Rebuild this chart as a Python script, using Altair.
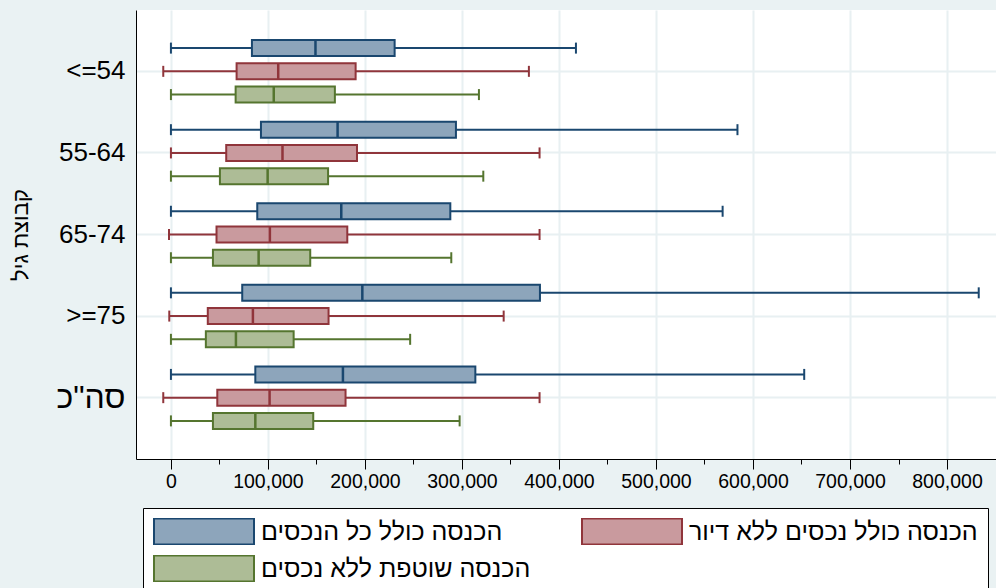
import altair as alt
import pandas as pd

groups = ["<=54", "55-64", "65-74", ">=75", 'סה"כ']
series = ["הכנסה כולל כל הנכסים", "הכנסה כולל נכסים ללא דיור", "הכנסה שוטפת ללא נכסים"]

# all assets
s1_lo = [0, 0, 0, 0, 0]
s1_q1 = [83500, 92800, 89000, 73500, 87000]
s1_med = [149000, 171800, 175600, 197300, 177300]
s1_q3 = [230600, 293800, 288000, 380400, 313800]
s1_hi = [417500, 584000, 568700, 832700, 652800]
# assets without housing
s2_lo = [-7900, 0, -2000, -1700, -7900]
s2_q1 = [67700, 57000, 47000, 38000, 47800]
s2_med = [110600, 115000, 102000, 84500, 101700]
s2_q3 = [190400, 191800, 181800, 162500, 180000]
s2_hi = [369000, 380000, 380000, 343000, 380000]
# current income, no assets
s3_lo = [0, 0, 0, 0, 0]
s3_q1 = [66700, 50500, 43300, 36000, 43300]
s3_med = [106000, 99700, 90400, 67000, 87000]
s3_q3 = [169000, 162000, 143600, 126500, 146700]
s3_hi = [317500, 322000, 289000, 246600, 297600]

fill_colors = ["#8DA5BB", "#C99A9E", "#ADBC96"]
stroke_colors = ["#1A476F", "#90353B", "#55752F"]

stats = [
    (s1_lo, s1_q1, s1_med, s1_q3, s1_hi),
    (s2_lo, s2_q1, s2_med, s2_q3, s2_hi),
    (s3_lo, s3_q1, s3_med, s3_q3, s3_hi),
]
rows = []
for s, (lo, q1, med, q3, hi) in zip(series, stats):
    for i, g in enumerate(groups):
        rows.append(dict(group=g, series=s, lo=lo[i], q1=q1[i], med=med[i], q3=q3[i], hi=hi[i]))
df = pd.DataFrame(rows)

FONT = "Liberation Sans"
GRID = "#E8F0F2"

xscale = alt.Scale(domain=[-36000, 850500], nice=False, zero=False)
major = "datum.value % 100000 === 0"
xaxis = alt.Axis(
    title=None,
    values=list(range(0, 850001, 25000)),
    labelExpr="datum.value % 100000 === 0 ? format(datum.value, ',') : ''",
    labelFont=FONT,
    labelFontSize=19.5,
    labelColor="black",
    labelPadding=3,
    labelFlush=False,
    tickColor="black",
    tickSize={"condition": {"test": major, "value": 10}, "value": 5},
    domainColor="black",
    domainWidth=1,
    grid=True,
    gridColor=GRID,
    gridWidth=2,
    gridOpacity={"condition": {"test": major, "value": 1}, "value": 0},
)

yenc = alt.Y(
    "group:N",
    sort=groups,
    scale=alt.Scale(paddingInner=0, paddingOuter=0.252),
    axis=alt.Axis(
        title="קבוצת גיל",
        titleFont=FONT,
        titleFontSize=22,
        titleFontWeight="normal",
        titleColor="black",
        titleX=-116,
        titleY=224.5,
        titleBaseline="middle",
        titleAlign="center",
        titleAngle=270,
        labelFont=FONT,
        labelFontSize={"condition": {"test": "datum.value === '" + groups[-1] + "'", "value": 32}, "value": 26},
        labelColor="black",
        labelPadding=11,
        ticks=False,
        domainColor="black",
        domainWidth=1,
        grid=True,
        gridColor=GRID,
        gridWidth=2,
    ),
)
yoff = alt.YOffset("series:N", sort=series, scale=alt.Scale(paddingInner=0.31, paddingOuter=0.41))

legend = alt.Legend(
    title=None,
    orient="none",
    legendX=7,
    legendY=498,
    direction="horizontal",
    columns=2,
    columnPadding=50,
    rowPadding=10,
    symbolType="M-1,-0.26H1V0.26H-1Z",
    symbolSize=10000,
    symbolStrokeWidth=2,
    symbolOpacity=1,
    clipHeight=27,
    labelFont=FONT,
    labelFontSize=25,
    labelColor="black",
    labelOffset=6,
    labelLimit=500,
    padding=10,
    strokeColor="black",
    fillColor="white",
)

fill_enc = alt.Fill("series:N", sort=series, scale=alt.Scale(domain=series, range=fill_colors), legend=legend)
stroke_enc = alt.Stroke("series:N", sort=series, scale=alt.Scale(domain=series, range=stroke_colors), legend=legend)
color_enc = alt.Color("series:N", sort=series, scale=alt.Scale(domain=series, range=stroke_colors), legend=None)

base = alt.Chart(df)

whisk = base.mark_rule(strokeWidth=2).encode(
    x=alt.X("lo:Q", scale=xscale, axis=xaxis), x2="hi:Q", y=yenc, yOffset=yoff, stroke=stroke_enc
)
box = base.mark_bar(strokeWidth=2, opacity=1).encode(
    x=alt.X("q1:Q"), x2="q3:Q", y=yenc, yOffset=yoff, fill=fill_enc, stroke=stroke_enc
)
med = base.mark_tick(size=16, thickness=2.5, opacity=1).encode(
    x="med:Q", y=yenc, yOffset=yoff, color=color_enc
)
cap_lo = base.mark_tick(size=11, thickness=2, opacity=1).encode(
    x="lo:Q", y=yenc, yOffset=yoff, color=color_enc
)
cap_hi = base.mark_tick(size=11, thickness=2, opacity=1).encode(
    x="hi:Q", y=yenc, yOffset=yoff, color=color_enc
)

chart = (
    alt.layer(whisk, box, med, cap_lo, cap_hi)
    .properties(
        width=860,
        height=449,
        autosize=alt.AutoSizeParams(type="none"),
        padding={"left": 136, "top": 10, "right": 0, "bottom": 129},
        background="#EAF2F3",
    )
    .configure_view(fill="white", strokeWidth=0)
)

chart.save("out.html", embed_options={"renderer": "svg", "actions": False})
